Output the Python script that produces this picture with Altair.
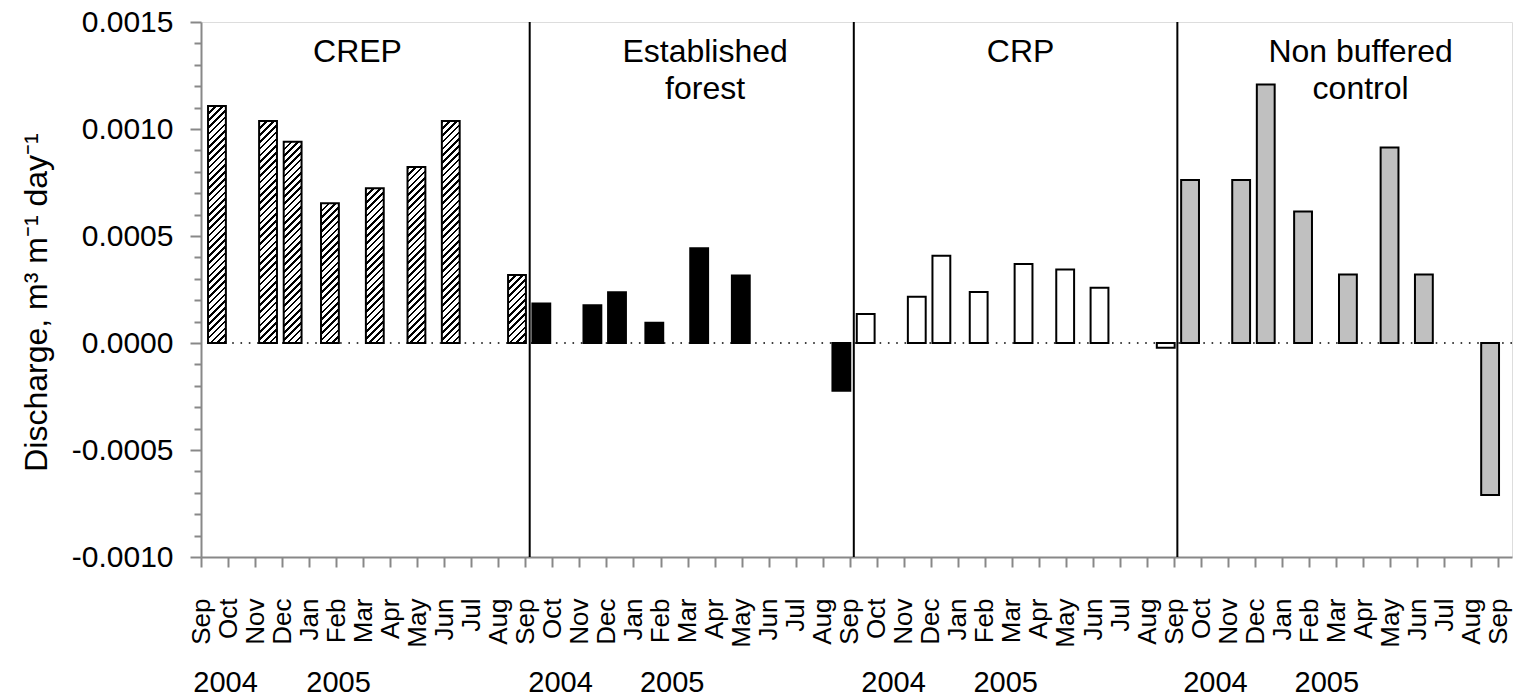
import json
import altair as alt
import pandas as pd

# ---------------- data ----------------
months = ["Sep", "Oct", "Nov", "Dec", "Jan", "Feb", "Mar", "Apr", "May", "Jun", "Jul", "Aug"]
sites = ["CREP", "Established forest", "CRP", "Non buffered control"]
site_titles = ["CREP", "Established\nforest", "CRP", "Non buffered\ncontrol"]
# sampling dates, in months after 1 Sep 2004
sample_month = [0.59, 2.48, 3.39, 4.77, 6.43, 7.97, 9.24, 11.69]
crep = [0.001107, 0.001037, 0.000941, 0.000653, 0.000723, 0.000822, 0.001037, 0.000318]
forest = [0.000185, 0.000176, 0.000237, 0.000095, 0.000443, 0.000316, None, -0.000223]
crp = [0.000136, 0.000216, 0.000408, 0.000238, 0.000369, 0.000343, 0.000258, -0.000022]
control = [0.000762, 0.000762, 0.001208, 0.000615, 0.000320, 0.000913, 0.000320, -0.000710]
years = ["2004", "2005"]
y_major = [-0.001, -0.0005, 0.0, 0.0005, 0.001, 0.0015]

# ---------------- layout ----------------
W, H = 1311, 535
X_MAX = 48.5
Y_MIN, Y_MAX = -0.001, 0.0015
HALF = 0.33                      # half bar width in months
divider_pos = [12.16, 24.15, 36.12]
title_pos = [5.79, 18.65, 30.32, 42.90]
year_pos = [[0.91, 5.09], [13.30, 17.43], [25.62, 29.77], [37.53, 41.65]]
FONT = "Liberation Sans"

series = [crep, forest, crp, control]
rows = []
for p, (site, vals) in enumerate(zip(sites, series)):
    for m, v in zip(sample_month, vals):
        if v is None:
            continue
        rows.append({"site": site, "pos": p * 12 + m, "value": v})
bars = pd.DataFrame(rows)

xscale = alt.Scale(domain=[0, X_MAX], nice=False, zero=False)
yscale = alt.Scale(domain=[Y_MIN, Y_MAX], nice=False, zero=False)

label_list = json.dumps(months).replace('"', "'")
xaxis = alt.Axis(
    values=list(range(0, 49)),
    labelExpr=f"{label_list}[datum.value % 12]",
    labelAngle=270, labelFontSize=26, labelPadding=31, labelOverlap=False,
    labelBound=False, labelFlush=False, tickSize=10, tickWidth=2,
    domainWidth=2, title=None, grid=False,
)
yaxis = alt.Axis(
    values=y_major,
    labelExpr="(datum.value < 0 ? '-' : '') + format(abs(datum.value), '.4f')",
    labelFontSize=30, labelPadding=17, tickSize=11, tickWidth=2, domainWidth=2,
    title="Discharge, m\u00b3 m\u207b\u00b9 day\u207b\u00b9", titleFontSize=32,
    titleFontWeight="normal", titleAngle=270, titleX=-165, titleY=280,
    titleAlign="center", titleBaseline="middle", grid=False, orient="left",
)
minor_vals = [round(Y_MIN + i * 0.0001, 4) for i in range(26)]
minor_vals = [v for v in minor_vals if all(abs(v - m) > 1e-9 for m in y_major)]
yaxis_minor = alt.Axis(values=minor_vals, labels=False, tickSize=7, tickWidth=2,
                       domain=False, title=None, grid=False, orient="left", offset=0)


def X(field):
    return alt.X(f"{field}:Q", scale=xscale, axis=xaxis)


# zero dotted line (carries minor y ticks)
zero = alt.Chart(pd.DataFrame({"z": [0.0]})).mark_rule(
    color="black", strokeWidth=1.6, strokeDash=[1.6, 6.7]
).encode(y=alt.Y("z:Q", scale=yscale, axis=yaxis_minor))

# solid / plain bars
plain = alt.Chart(bars[bars.site != "CREP"]).transform_calculate(
    lo=f"datum.pos - {HALF}", hi=f"datum.pos + {HALF}"
).mark_rect(stroke="black", strokeWidth=2).encode(
    x=X("lo"), x2="hi:Q",
    y=alt.Y("value:Q", scale=yscale, axis=yaxis), y2=alt.datum(0),
    fill=alt.Fill("site:N", scale=alt.Scale(domain=sites[1:], range=["black", "white", "#c0c0c0"]), legend=None),
)


def hatch(value):
    w = 2 * HALF * W / X_MAX
    h = abs(value) * H / (Y_MAX - Y_MIN)
    c = (w + h) / (w * w + h * h)
    period = 6.8 / (w + h)
    lw = 2.6 / (w + h)
    stops = []
    t = 0.0
    while t < 1.0:
        a = min(t + lw, 1.0)
        b = min(t + period, 1.0)
        stops += [{"offset": t, "color": "black"}, {"offset": a, "color": "black"},
                  {"offset": a, "color": "white"}, {"offset": b, "color": "white"}]
        t += period
    return {"gradient": "linear", "x1": 0, "y1": 0, "x2": c * w, "y2": c * h, "stops": stops}


crep_df = bars[bars.site == "CREP"].reset_index(drop=True)
crep_layers = []
for i in range(len(crep_df)):
    row = crep_df.iloc[[i]]
    crep_layers.append(
        alt.Chart(row).transform_calculate(
            lo=f"datum.pos - {HALF}", hi=f"datum.pos + {HALF}"
        ).mark_rect(fill=hatch(float(row.value.iloc[0])), stroke="black", strokeWidth=2).encode(
            x=X("lo"), x2="hi:Q",
            y=alt.Y("value:Q", scale=yscale, axis=None), y2=alt.datum(0),
        )
    )

dividers = alt.Chart(pd.DataFrame({"d": divider_pos})).mark_rule(
    color="black", strokeWidth=2
).encode(x=X("d"))

titles = alt.Chart(pd.DataFrame({"t": site_titles, "pos": title_pos})).mark_text(
    font=FONT, fontSize=32, lineBreak="\n", lineHeight=37, align="center",
    baseline="alphabetic", color="black"
).encode(x=X("pos"), y=alt.value(40), text="t:N")

yr_rows = []
for p in range(4):
    for yname, pos in zip(years, year_pos[p]):
        yr_rows.append({"year": yname, "pos": pos})
year_text = alt.Chart(pd.DataFrame(yr_rows)).mark_text(
    font=FONT, fontSize=29, align="center", baseline="alphabetic", color="black"
).encode(x=X("pos"), y=alt.value(670), text="year:N")

chart = alt.layer(zero, plain, *crep_layers, dividers, titles, year_text).resolve_axis(
    y="independent"
).properties(
    width=W, height=H,
    autosize=alt.AutoSizeParams(type="none"),
    padding={"left": 201, "top": 22, "right": 3, "bottom": 140},
).configure_view(stroke="black", strokeWidth=2).configure_axis(
    labelFont=FONT, titleFont=FONT, labelColor="black", titleColor="black",
    domainColor="black", tickColor="black",
).configure(background="white")

chart.save("out.html", embed_options={"renderer": "svg", "actions": False})
